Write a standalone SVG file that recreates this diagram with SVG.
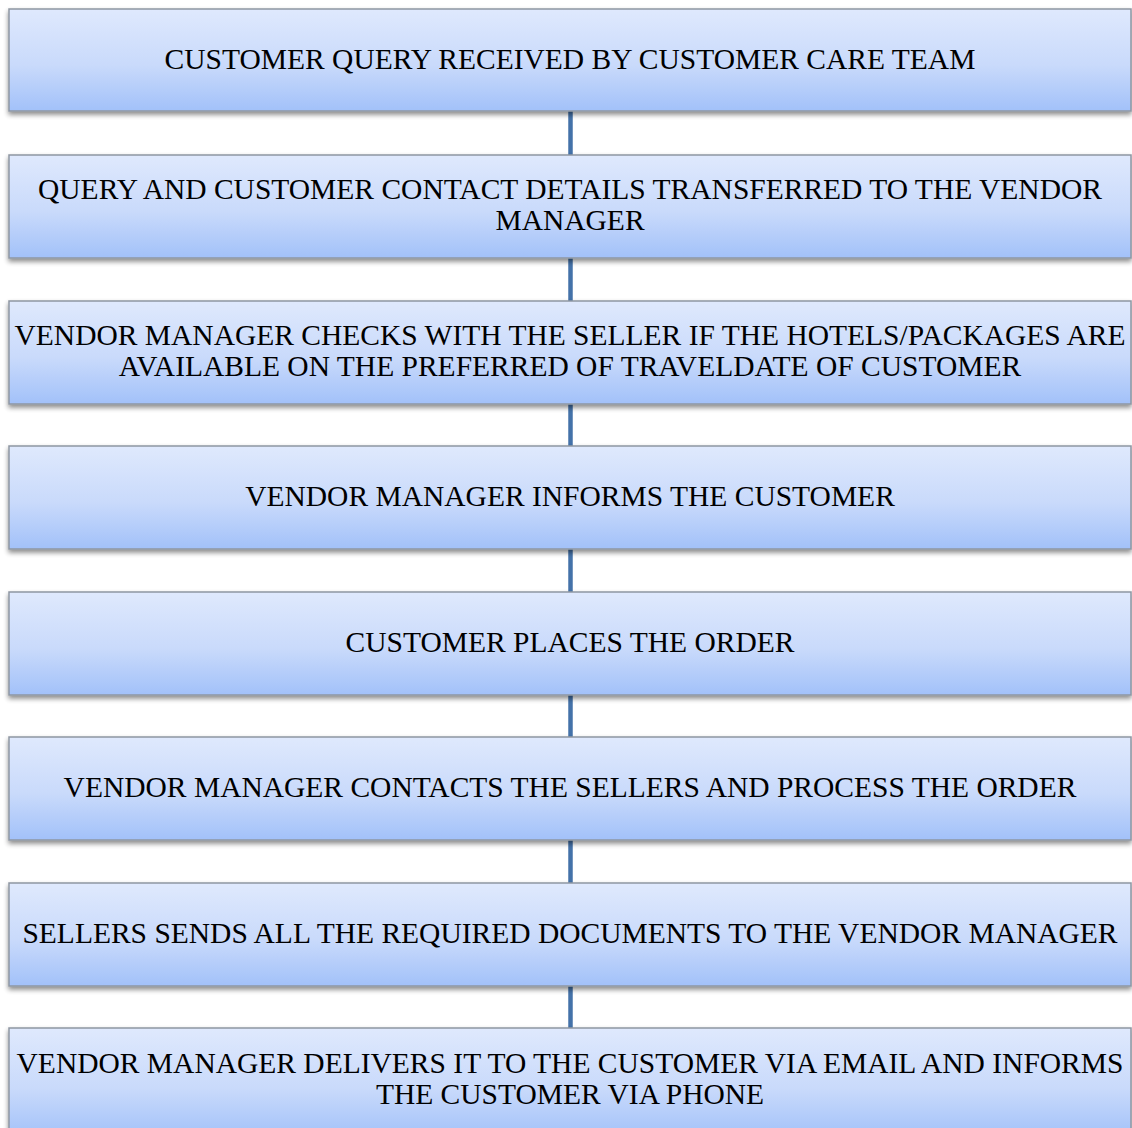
<svg xmlns="http://www.w3.org/2000/svg" width="1132" height="1128" viewBox="0 0 1132 1128">
<defs>
<linearGradient id="g" x1="0" y1="0" x2="0" y2="1">
<stop offset="0" stop-color="#dfe9fd"/>
<stop offset="0.55" stop-color="#c9dafb"/>
<stop offset="1" stop-color="#a2c1f9"/>
</linearGradient>
<filter id="sh" x="-5%" y="-20%" width="110%" height="150%">
<feGaussianBlur in="SourceAlpha" stdDeviation="2.5"/>
<feOffset dx="0" dy="3" result="b"/>
<feComponentTransfer><feFuncA type="linear" slope="0.45"/></feComponentTransfer>
<feMerge><feMergeNode/><feMergeNode in="SourceGraphic"/></feMerge>
</filter>
</defs>
<style>
.box{fill:url(#g);stroke:#8e96a2;stroke-width:1.5;filter:url(#sh)}
.t{font-family:"Liberation Serif","Times New Roman",serif;font-size:29.5px;fill:#000;text-anchor:middle}
.c{stroke:#4472a9;stroke-width:4.5}
</style>
<rect width="1132" height="1128" fill="#fff"/>
<g id="connectors">
<line class="c" x1="570.5" y1="111" x2="570.5" y2="155"/>
<line class="c" x1="570.5" y1="258" x2="570.5" y2="301"/>
<line class="c" x1="570.5" y1="404" x2="570.5" y2="446"/>
<line class="c" x1="570.5" y1="549" x2="570.5" y2="592"/>
<line class="c" x1="570.5" y1="695" x2="570.5" y2="737"/>
<line class="c" x1="570.5" y1="840" x2="570.5" y2="883"/>
<line class="c" x1="570.5" y1="986" x2="570.5" y2="1028"/>
</g>
<g id="n1"><rect class="box" x="9" y="9" width="1122" height="102"/><text class="t" x="570" y="69">CUSTOMER QUERY RECEIVED BY CUSTOMER CARE TEAM</text></g>
<g id="n2"><rect class="box" x="9" y="155" width="1122" height="103"/><text class="t" x="570" y="199">QUERY AND CUSTOMER CONTACT DETAILS TRANSFERRED TO THE VENDOR</text><text class="t" x="570" y="230">MANAGER</text></g>
<g id="n3"><rect class="box" x="9" y="301" width="1122" height="103"/><text class="t" x="570" y="345">VENDOR MANAGER CHECKS WITH THE SELLER IF THE HOTELS/PACKAGES ARE</text><text class="t" x="570" y="376">AVAILABLE ON THE PREFERRED OF TRAVELDATE OF CUSTOMER</text></g>
<g id="n4"><rect class="box" x="9" y="446" width="1122" height="103"/><text class="t" x="570" y="506">VENDOR MANAGER INFORMS THE CUSTOMER</text></g>
<g id="n5"><rect class="box" x="9" y="592" width="1122" height="103"/><text class="t" x="570" y="652">CUSTOMER PLACES THE ORDER</text></g>
<g id="n6"><rect class="box" x="9" y="737" width="1122" height="103"/><text class="t" x="570" y="797">VENDOR MANAGER CONTACTS THE SELLERS AND PROCESS THE ORDER</text></g>
<g id="n7"><rect class="box" x="9" y="883" width="1122" height="103"/><text class="t" x="570" y="943">SELLERS SENDS ALL THE REQUIRED DOCUMENTS TO THE VENDOR MANAGER</text></g>
<g id="n8"><rect class="box" x="9" y="1028" width="1122" height="110"/><text class="t" x="570" y="1073">VENDOR MANAGER DELIVERS IT TO THE CUSTOMER VIA EMAIL AND INFORMS</text><text class="t" x="570" y="1104">THE CUSTOMER VIA PHONE</text></g>
</svg>
